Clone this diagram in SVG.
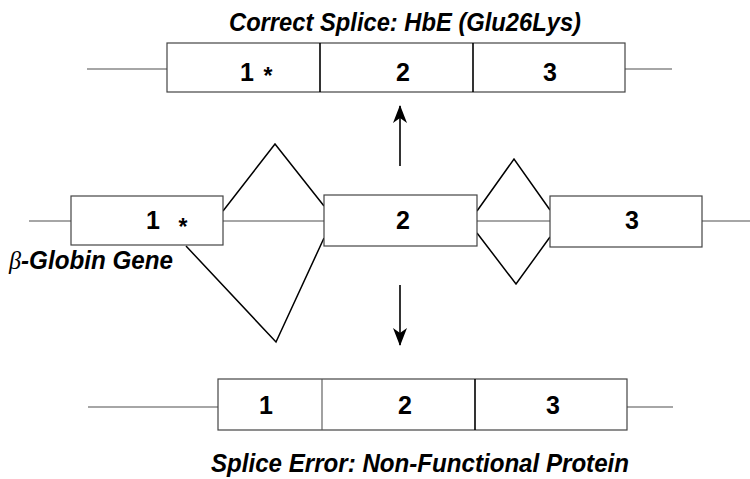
<svg xmlns="http://www.w3.org/2000/svg" width="750" height="479" viewBox="0 0 750 479">
<style>
.bx{fill:#fff;stroke:#444;stroke-width:1.2}
.ln{stroke:#888;stroke-width:1.3;fill:none}
.dv{stroke:#000;stroke-width:1.6}
.dvg{stroke:#555;stroke-width:1.1}
.v{stroke:#000;stroke-width:1.5;fill:none}
.n{font-family:"Liberation Sans",Arial,sans-serif;font-weight:bold;font-size:25px;text-anchor:middle;fill:#000}
.st{font-family:"Liberation Sans",Arial,sans-serif;font-weight:bold;font-size:23px;text-anchor:middle;fill:#000}
.t{font-family:"Liberation Sans",Arial,sans-serif;font-weight:bold;font-style:italic;font-size:26px;fill:#000}
</style>
<defs>
<marker id="ah" viewBox="0 0 18 14" refX="17" refY="7" markerWidth="18" markerHeight="14" markerUnits="userSpaceOnUse" orient="auto">
<path d="M0,0 L18,7 L0,14 L5,7 Z" fill="#000"/>
</marker>
</defs>
<g id="connectors">
<line class="ln" x1="87" y1="69" x2="167" y2="69"/>
<line class="ln" x1="625" y1="69" x2="672" y2="69"/>
<line class="ln" x1="29" y1="221" x2="71" y2="221"/>
<line class="ln" x1="223" y1="221" x2="324" y2="221"/>
<line class="ln" x1="477" y1="221" x2="550" y2="221"/>
<line class="ln" x1="702" y1="221" x2="750" y2="221"/>
<line class="ln" x1="88" y1="407" x2="218" y2="407"/>
<line class="ln" x1="627" y1="407" x2="673" y2="407"/>
<polyline class="v" points="223,211 275,144 324,206"/>
<polyline class="v" points="186,246 276,342 324,238"/>
<polyline class="v" points="477,211 514,159 550,210"/>
<polyline class="v" points="477,233 516,284 550,237"/>
<line x1="400" y1="166" x2="400" y2="106" stroke="#000" stroke-width="1.6" marker-end="url(#ah)"/>
<line x1="400" y1="285" x2="400" y2="345" stroke="#000" stroke-width="1.6" marker-end="url(#ah)"/>
</g>
<g id="title-top"><text class="t" x="229" y="31" textLength="352" lengthAdjust="spacingAndGlyphs">Correct Splice: HbE (Glu26Lys)</text></g>
<g id="mrna-top">
<rect class="bx" x="167" y="43" width="458" height="49"/>
<line class="dv" x1="320" y1="43" x2="320" y2="92"/>
<line class="dv" x1="473" y1="43" x2="473" y2="92"/>
<text class="n" x="247" y="81">1</text>
<text class="st" x="268" y="84">*</text>
<text class="n" x="403" y="81">2</text>
<text class="n" x="550" y="81">3</text>
</g>
<g id="exon1">
<rect class="bx" x="71" y="196" width="152" height="49"/>
<text class="n" x="153" y="229">1</text>
<text class="st" x="183" y="235">*</text>
</g>
<g id="exon2">
<rect class="bx" x="324" y="195" width="153" height="51"/>
<text class="n" x="403" y="229">2</text>
</g>
<g id="exon3">
<rect class="bx" x="550" y="196" width="152" height="51"/>
<text class="n" x="632" y="229">3</text>
</g>
<g id="gene-label"><text class="t" x="9" y="269" textLength="164" lengthAdjust="spacingAndGlyphs"><tspan font-family="'Liberation Serif',serif" font-weight="normal">β</tspan>-Globin Gene</text></g>
<g id="mrna-bottom">
<rect class="bx" x="218" y="379" width="409" height="51"/>
<line class="dvg" x1="322" y1="379" x2="322" y2="430"/>
<line class="dv" x1="475" y1="379" x2="475" y2="430"/>
<text class="n" x="266" y="414">1</text>
<text class="n" x="405" y="414">2</text>
<text class="n" x="553" y="414">3</text>
</g>
<g id="title-bottom"><text class="t" x="211" y="472" textLength="418" lengthAdjust="spacingAndGlyphs">Splice Error: Non-Functional Protein</text></g>
</svg>
